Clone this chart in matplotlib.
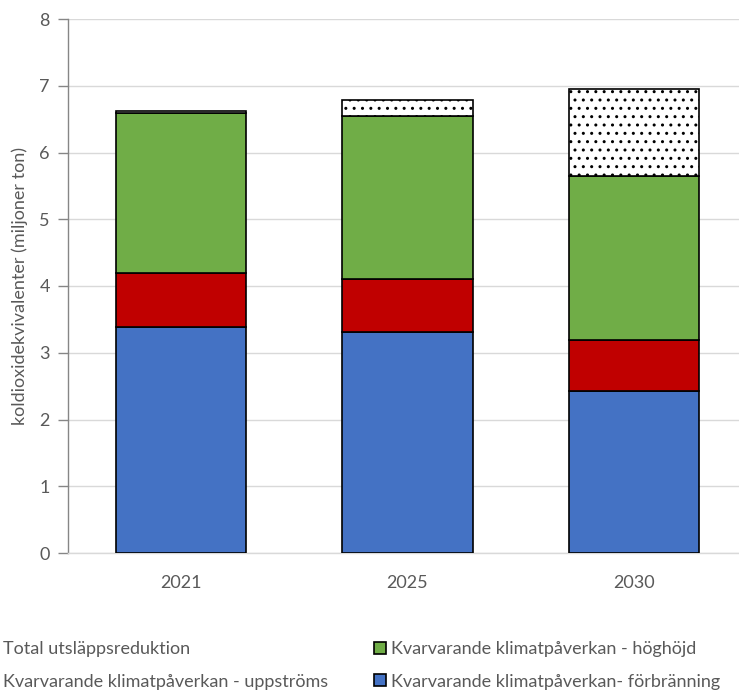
import matplotlib
matplotlib.use("Agg")
import matplotlib.pyplot as plt
import numpy as np

years = ["2021", "2025", "2030"]
forbranning = [3.39, 3.31, 2.43]
uppstroms = [0.81, 0.79, 0.76]
hoghojd = [2.39, 2.44, 2.46]
reduktion = [0.03, 0.25, 1.30]

labels = {
    "red": "Total utsläppsreduktion",
    "hog": "Kvarvarande klimatpåverkan - höghöjd",
    "upp": "Kvarvarande klimatpåverkan - uppströms",
    "for": "Kvarvarande klimatpåverkan- förbränning",
}

plt.rcParams['font.family'] = ['Lato', 'DejaVu Sans']
plt.rcParams['hatch.linewidth'] = 1.0
plt.rcParams['hatch.color'] = '#505050'

W, H = 739, 690
fig = plt.figure(figsize=(W / 100, H / 100), dpi=100)
ax = fig.add_axes([68 / W, 1 - 553 / H, (747 - 68) / W, (553 - 19) / H])

x = np.arange(len(years))
bw = 0.576
ec = 'black'
lw = 1.2
b1 = ax.bar(x, forbranning, bw, color='#4472C4', edgecolor=ec, linewidth=lw, zorder=3)
bot = np.array(forbranning)
b2 = ax.bar(x, uppstroms, bw, bottom=bot, color='#C00000', edgecolor=ec, linewidth=lw, zorder=3)
bot = bot + np.array(uppstroms)
b3 = ax.bar(x, hoghojd, bw, bottom=bot, color='#70AD47', edgecolor=ec, linewidth=lw, zorder=3)
bot = bot + np.array(hoghojd)
b4 = ax.bar(x, reduktion, bw, bottom=bot, color='white', edgecolor=ec, linewidth=lw,
            hatch='..', zorder=3)

ax.set_xlim(-0.5, 2.5)
ax.set_ylim(0, 8)
ax.set_yticks(range(0, 9))
ax.set_xticks(x)
ax.set_xticklabels(years)
ax.yaxis.grid(True, color='#D9D9D9', linewidth=1.0, zorder=0)
ax.set_axisbelow(True)
for s in ['top', 'right']:
    ax.spines[s].set_visible(False)
ax.spines['bottom'].set_color('#D9D9D9')
ax.spines['bottom'].set_linewidth(1.0)
ax.spines['left'].set_color('#868686')
ax.spines['left'].set_linewidth(1.0)
ax.tick_params(axis='y', length=7, width=1.0, color='#868686', labelcolor='#595959',
               labelsize=13, pad=6)
ax.tick_params(axis='x', length=0, labelcolor='#595959', labelsize=13, pad=16)
ax.set_ylabel("koldioxidekvivalenter (miljoner ton)", color='#595959', fontsize=13, labelpad=8)

handles = [b4, b2, b3, b1]
names = [labels["red"], labels["upp"], labels["hog"], labels["for"]]
leg = fig.legend(handles, names, ncol=2, loc='upper left',
                 bbox_to_anchor=(-14 / W, 1 - 641 / H), frameon=False,
                 fontsize=13, labelcolor='#595959', handlelength=0.65, handleheight=0.65,
                 handletextpad=0.3, columnspacing=2.55, labelspacing=0.92,
                 borderaxespad=0, borderpad=0)

fig.savefig("out.png", dpi=100)
